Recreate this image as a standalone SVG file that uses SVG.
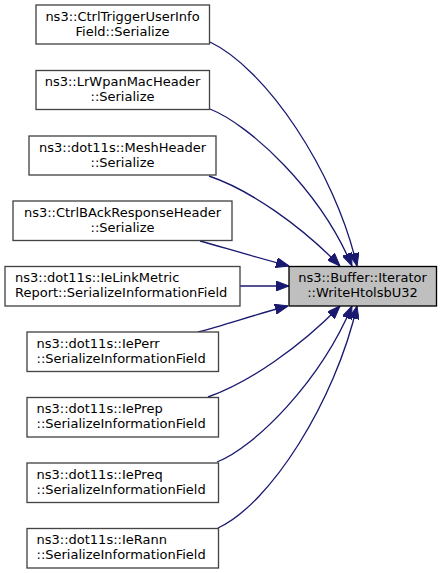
<svg xmlns="http://www.w3.org/2000/svg" width="443" height="573" viewBox="0 0 443 573">
<style>
.n rect{fill:#ffffff;stroke:#444444;stroke-width:1.33}
.t rect{fill:#bfbfbf;stroke:#000000;stroke-width:1.33}
text{font-family:"DejaVu Sans","Liberation Sans",sans-serif;font-size:13px;fill:#000000}
.c{text-anchor:middle}
.e path{fill:none;stroke:#191970;stroke-width:1.33;marker-end:url(#ah)}
</style>
<defs>
<marker id="ah" viewBox="0 0 13 10" refX="13" refY="5" markerWidth="13" markerHeight="10" markerUnits="userSpaceOnUse" orient="auto">
<path d="M0,0 L13,5 L0,10 z" fill="#191970" stroke="#191970" stroke-width="1"/>
</marker>
</defs>
<rect width="443" height="573" fill="#ffffff"/>
<g id="edges" class="e">
<path d="M210,42 C265,68 335,170 357,266"/>
<path d="M210,109 C250,125 320,190 352,266"/>
<path d="M209,176 C250,190 300,225 340,266"/>
<path d="M200,241 C225,248 255,257 289,266"/>
<path d="M240,286 L289,286"/>
<path d="M198,332 C225,325 260,313 288,306"/>
<path d="M208,397 C250,382 300,347 340,306"/>
<path d="M217,462 C255,447 320,382 352,306"/>
<path d="M218,528 C270,504 335,402 357,306"/>
</g>
<g id="target" class="t">
<rect x="289" y="266.5" width="147.5" height="39.5"/>
<text class="c" x="362.5" y="281.5">ns3::Buffer::Iterator</text>
<text class="c" x="362.5" y="296.5">::WriteHtolsbU32</text>
</g>
<g id="n1" class="n">
<rect x="36" y="5" width="173.5" height="39"/>
<text class="c" x="122.5" y="20.5">ns3::CtrlTriggerUserInfo</text>
<text class="c" x="122.5" y="35.5">Field::Serialize</text>
</g>
<g id="n2" class="n">
<rect x="36" y="70.5" width="173.5" height="39"/>
<text class="c" x="122.5" y="86">ns3::LrWpanMacHeader</text>
<text class="c" x="122.5" y="101">::Serialize</text>
</g>
<g id="n3" class="n">
<rect x="29" y="136" width="187" height="39"/>
<text class="c" x="122.5" y="151.5">ns3::dot11s::MeshHeader</text>
<text class="c" x="122.5" y="166.5">::Serialize</text>
</g>
<g id="n4" class="n">
<rect x="13" y="201" width="219" height="39.5"/>
<text class="c" x="122.5" y="216.5">ns3::CtrlBAckResponseHeader</text>
<text class="c" x="122.5" y="231.5">::Serialize</text>
</g>
<g id="n5" class="n">
<rect x="5" y="266.5" width="235" height="39.5"/>
<text x="15" y="281.5">ns3::dot11s::IeLinkMetric</text>
<text x="15" y="296.5">Report::SerializeInformationField</text>
</g>
<g id="n6" class="n">
<rect x="27" y="332" width="191.5" height="39.5"/>
<text x="36.5" y="347.5">ns3::dot11s::IePerr</text>
<text x="36.5" y="362.5">::SerializeInformationField</text>
</g>
<g id="n7" class="n">
<rect x="27" y="397.5" width="191.5" height="39.5"/>
<text x="36.5" y="413">ns3::dot11s::IePrep</text>
<text x="36.5" y="428">::SerializeInformationField</text>
</g>
<g id="n8" class="n">
<rect x="27" y="463" width="191.5" height="39.5"/>
<text x="36.5" y="478.5">ns3::dot11s::IePreq</text>
<text x="36.5" y="493.5">::SerializeInformationField</text>
</g>
<g id="n9" class="n">
<rect x="27" y="528.5" width="191.5" height="39.5"/>
<text x="36.5" y="544">ns3::dot11s::IeRann</text>
<text x="36.5" y="559">::SerializeInformationField</text>
</g>
</svg>
